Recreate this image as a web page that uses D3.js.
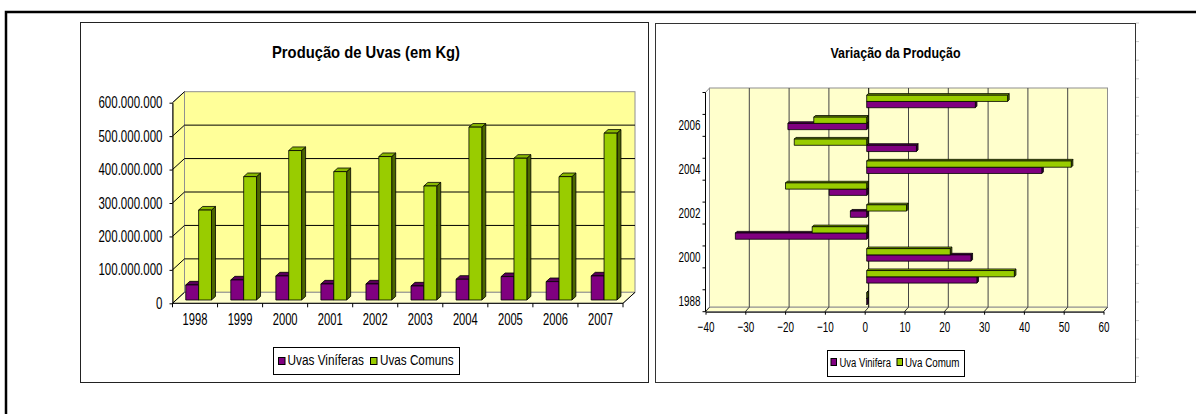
<!DOCTYPE html>
<html>
<head>
<meta charset="utf-8">
<script src="https://cdn.jsdelivr.net/npm/d3@7"></script>
<style>
  html, body { margin: 0; padding: 0; background: #fff; }
  svg { display: block; font-family: "Liberation Sans", Arial, sans-serif; }
</style>
</head>
<body>
<svg id="chart" width="1196" height="414"></svg>
<script>
// ---- Data -------------------------------------------------------------
const years = ["1998", "1999", "2000", "2001", "2002", "2003", "2004", "2005", "2006", "2007"];
const uvasViniferas = [45e6, 60e6, 72e6, 48e6, 48e6, 42e6, 62e6, 70e6, 55e6, 72e6];
const uvasComuns = [269e6, 369e6, 447e6, 384e6, 429e6, 341e6, 517e6, 424e6, 369e6, 499e6];
const prodTicks = [0, 1e8, 2e8, 3e8, 4e8, 5e8, 6e8];

// percentage change of production, year on year
const varYearLabels = ["1988", "", "2000", "", "2002", "", "2004", "", "2006", ""];
const varVinifera = [0, 27.7, 26.2, -33, -4.1, -9.4, 44, 12.5, -19.8, 27.3];
const varComum = [0, 37.1, 21, -13.7, 10, -20.4, 51.4, -18.2, -13.3, 35.4];
const varTicks = [-40, -30, -20, -10, 0, 10, 20, 30, 40, 50, 60];

const seriesProd = [
  { key: "vin", name: "Uvas Viníferas", values: uvasViniferas },
  { key: "com", name: "Uvas Comuns", values: uvasComuns }
];
const seriesVar = [
  { key: "vin", name: "Uva Vinifera", values: varVinifera },
  { key: "com", name: "Uva Comum", values: varComum }
];

const colors = {
  vin: { front: "#800080", top: "#5a005a", side: "#3d003d" },
  com: { front: "#99CC00", top: "#88B800", side: "#4C6600" }
};

// ---- Helpers -----------------------------------------------------------
const svg = d3.select("#chart");
const poly = pts => "M" + pts.map(p => p[0] + "," + p[1]).join("L") + "Z";
const fmtBR = d3.formatLocale({ decimal: ",", thousands: ".", grouping: [3], currency: ["R$ ", ""] }).format(",.0f");

// narrow the glyphs horizontally while keeping the anchor point fixed
function squeeze(sel, sx) {
  sel.each(function () {
    const t = d3.select(this);
    const x = +t.attr("x") || 0;
    t.attr("transform", `translate(${x * (1 - sx)},0) scale(${sx},1)`);
  });
}

// ---- Page frame ------------------------------------------------------------
svg.append("path")
  .attr("d", "M6,414V12H1196")
  .attr("fill", "none").attr("stroke", "#000").attr("stroke-width", 2.5);

// faint cell ticks along the right panel edge
const edgeTicks = d3.range(23, 382, 18.6);
svg.append("g").selectAll("line").data(edgeTicks).join("line")
  .attr("x1", 1136).attr("x2", 1139).attr("y1", d => d).attr("y2", d => d)
  .attr("stroke", "#c8c8c8");

svg.append("rect").attr("x", 80.5).attr("y", 22.5).attr("width", 568).attr("height", 360)
  .attr("fill", "#fff").attr("stroke", "#222");
svg.append("rect").attr("x", 655.5).attr("y", 23.5).attr("width", 480).attr("height", 359)
  .attr("fill", "#fff").attr("stroke", "#333");

// ================= Produção de Uvas (3D column chart) =================
{
  const L = { x0: 172.5, x1: 623, y0: 303.3, y1: 102.7, dx: 12, dy: -11 };
  const g = svg.append("g");

  g.append("text").attr("x", 366).attr("y", 58).attr("text-anchor", "middle")
    .attr("font-size", 17).attr("font-weight", "bold")
    .attr("textLength", 188).attr("lengthAdjust", "spacingAndGlyphs")
    .text("Produção de Uvas (em Kg)");

  const x = d3.scaleBand().domain(years).range([L.x0, L.x1]);
  const y = d3.scaleLinear().domain([0, 6e8]).range([L.y0, L.y1]);
  const sub = d3.scaleBand().domain(seriesProd.map(s => s.key)).range([0, x.bandwidth()]).paddingOuter(0.75);

  // walls and floor
  g.append("path").attr("d", poly([[L.x0, L.y0], [L.x0, L.y1], [L.x0 + L.dx, L.y1 + L.dy], [L.x0 + L.dx, L.y0 + L.dy]]))
    .attr("fill", "#FFFF99").attr("stroke", "#909090");
  g.append("rect").attr("x", L.x0 + L.dx).attr("y", L.y1 + L.dy)
    .attr("width", L.x1 - L.x0).attr("height", L.y0 - L.y1)
    .attr("fill", "#FFFF99").attr("stroke", "#909090");
  g.append("path").attr("d", poly([[L.x0, L.y0], [L.x1, L.y0], [L.x1 + L.dx, L.y0 + L.dy], [L.x0 + L.dx, L.y0 + L.dy]]))
    .attr("fill", "#FFFFCC").attr("stroke", "#909090");

  // gridlines on back and side walls
  const inner = prodTicks.filter(v => v > 0 && v < 6e8);
  g.append("g").selectAll("line").data(inner).join("line")
    .attr("x1", L.x0 + L.dx).attr("x2", L.x1 + L.dx)
    .attr("y1", d => y(d) + L.dy).attr("y2", d => y(d) + L.dy)
    .attr("stroke", "#000");
  g.append("g").selectAll("line").data(inner.concat([0, 6e8])).join("line")
    .attr("x1", L.x0).attr("x2", L.x0 + L.dx)
    .attr("y1", d => y(d)).attr("y2", d => y(d) + L.dy)
    .attr("stroke", "#000");

  // floor front edge, right edge and category boundary ticks
  g.append("line").attr("x1", L.x0).attr("x2", L.x1).attr("y1", L.y0).attr("y2", L.y0).attr("stroke", "#000");
  g.append("line").attr("x1", L.x1).attr("x2", L.x1 + L.dx).attr("y1", L.y0).attr("y2", L.y0 + L.dy).attr("stroke", "#000");
  const bounds = years.map(d => x(d)).concat([L.x1]);
  g.append("g").selectAll("line").data(bounds).join("line")
    .attr("x1", d => d).attr("x2", d => d).attr("y1", L.y0).attr("y2", L.y0 + 4)
    .attr("stroke", "#000");

  // value axis
  const ya = g.append("g").attr("transform", `translate(${L.x0},0)`)
    .call(d3.axisLeft(y).tickValues(prodTicks).tickSize(3).tickSizeOuter(0).tickPadding(7).tickFormat(fmtBR));
  ya.select(".domain").attr("stroke", "#000");
  ya.selectAll(".tick line").attr("stroke", "#000");
  ya.selectAll("text").attr("font-size", 16).attr("fill", "#000")
    .attr("font-family", "'Liberation Sans', Arial, sans-serif").call(squeeze, 0.72);

  // category labels
  const xa = g.append("g").attr("transform", `translate(0,${L.y0})`)
    .call(d3.axisBottom(x).tickSize(0).tickPadding(0));
  xa.select(".domain").remove();
  xa.selectAll("text").attr("font-size", 16).attr("fill", "#000").attr("y", 22).attr("dy", 0)
    .attr("font-family", "'Liberation Sans', Arial, sans-serif").call(squeeze, 0.70);

  // 3D columns, drawn left to right
  const t = { dx: 3.6, dy: -3.3 };   // front face offset inside the floor
  const d = { dx: 4, dy: -3.6 };     // column depth
  const bars = g.append("g").attr("stroke", "#000").attr("stroke-width", 0.8).attr("stroke-linejoin", "round");
  years.forEach((yr, i) => {
    seriesProd.forEach(s => {
      const c = colors[s.key];
      const x0 = x(yr) + sub(s.key) + t.dx, x1 = x0 + sub.bandwidth();
      const yb = y(0) + t.dy, yt = y(s.values[i]) + t.dy;
      bars.append("path").attr("d", poly([[x1, yt], [x1 + d.dx, yt + d.dy], [x1 + d.dx, yb + d.dy], [x1, yb]])).attr("fill", c.side);
      bars.append("path").attr("d", poly([[x0, yt], [x1, yt], [x1 + d.dx, yt + d.dy], [x0 + d.dx, yt + d.dy]])).attr("fill", c.top);
      bars.append("rect").attr("x", x0).attr("y", yt).attr("width", x1 - x0).attr("height", yb - yt).attr("fill", c.front);
    });
  });

  // legend
  const lg = g.append("g");
  lg.append("rect").attr("x", 273.5).attr("y", 347.5).attr("width", 186).attr("height", 27)
    .attr("fill", "#fff").attr("stroke", "#000");
  const items = [
    { s: seriesProd[0], sq: 278, tx: 287.5, w: 76.5 },
    { s: seriesProd[1], sq: 370, tx: 380, w: 73.5 }
  ];
  items.forEach(it => {
    lg.append("rect").attr("x", it.sq + 0.5).attr("y", 357.5).attr("width", 6.5).attr("height", 7)
      .attr("fill", colors[it.s.key].front).attr("stroke", "#000");
    lg.append("text").attr("x", it.tx).attr("y", 365.3).attr("font-size", 14)
      .attr("textLength", it.w).attr("lengthAdjust", "spacingAndGlyphs").text(it.s.name);
  });
}

// ================= Variação da Produção (3D bar chart) =================
{
  const R = { x0: 705.5, x1: 1103.5, y0: 311.7, y1: 92.5, dx: 4, dy: -4.5 };
  const g = svg.append("g");

  g.append("text").attr("x", 895.5).attr("y", 57.5).attr("text-anchor", "middle")
    .attr("font-size", 15.5).attr("font-weight", "bold")
    .attr("textLength", 130).attr("lengthAdjust", "spacingAndGlyphs")
    .text("Variação da Produção");

  const x = d3.scaleLinear().domain([-40, 60]).range([R.x0, R.x1]);
  const y = d3.scaleBand().domain(years.slice().reverse()).range([R.y1, R.y0]);
  const sub = d3.scaleBand().domain(["com", "vin"]).range([0, y.bandwidth()]).paddingOuter(0.75);

  // back wall and base
  g.append("rect").attr("x", R.x0 + R.dx).attr("y", R.y1 + R.dy)
    .attr("width", R.x1 - R.x0).attr("height", R.y0 - R.y1)
    .attr("fill", "#FFFFCC").attr("stroke", "#909090");
  g.append("path").attr("d", poly([[R.x0, R.y0], [R.x1, R.y0], [R.x1 + R.dx, R.y0 + R.dy], [R.x0 + R.dx, R.y0 + R.dy]]))
    .attr("fill", "#FFFFCC").attr("stroke", "#909090");
  g.append("line").attr("x1", R.x0).attr("x2", R.x0 + R.dx).attr("y1", R.y1).attr("y2", R.y1 + R.dy)
    .attr("stroke", "#909090");

  // gridlines
  const inner = varTicks.filter(v => v > -40 && v < 60);
  g.append("g").selectAll("line").data(inner).join("line")
    .attr("x1", d => x(d) + R.dx).attr("x2", d => x(d) + R.dx)
    .attr("y1", R.y1 + R.dy).attr("y2", R.y0 + R.dy)
    .attr("stroke", d => d === 0 ? "#000" : "#444");
  g.append("g").selectAll("line").data(varTicks).join("line")
    .attr("x1", d => x(d)).attr("x2", d => x(d) + R.dx)
    .attr("y1", R.y0).attr("y2", R.y0 + R.dy)
    .attr("stroke", "#333");

  // value axis
  const xa = g.append("g").attr("transform", `translate(0,${R.y0})`)
    .call(d3.axisBottom(x).tickValues(varTicks).tickSize(3).tickSizeOuter(0));
  xa.select(".domain").attr("stroke", "#000");
  xa.selectAll(".tick line").attr("stroke", "#000");
  xa.selectAll("text").attr("font-size", 15).attr("fill", "#000").attr("y", 20.5).attr("dy", 0)
    .attr("font-family", "'Liberation Sans', Arial, sans-serif").call(squeeze, 0.66);

  // category axis
  g.append("line").attr("x1", R.x0).attr("x2", R.x0).attr("y1", R.y1).attr("y2", R.y0).attr("stroke", "#000");
  const bounds = years.map(d => y(d)).concat([R.y0]);
  g.append("g").selectAll("line").data(bounds).join("line")
    .attr("x1", R.x0 - 3).attr("x2", R.x0).attr("y1", d => d).attr("y2", d => d)
    .attr("stroke", "#000");
  const ya = g.append("g").attr("transform", `translate(${R.x0},0)`)
    .call(d3.axisLeft(y).tickSize(0).tickPadding(5).tickFormat(d => varYearLabels[years.indexOf(d)]));
  ya.select(".domain").remove();
  ya.selectAll("text").attr("font-size", 15).attr("fill", "#000")
    .attr("font-family", "'Liberation Sans', Arial, sans-serif").call(squeeze, 0.66);

  // 3D bars, drawn bottom to top
  const t = { dx: 2, dy: -2 };
  const d = { dx: 1.6, dy: -1.6 };
  const bars = g.append("g").attr("stroke", "#000").attr("stroke-width", 0.8).attr("stroke-linejoin", "round");
  years.forEach((yr, i) => {
    ["vin", "com"].forEach(key => {
      const s = seriesVar.find(q => q.key === key);
      const c = colors[key];
      const v = s.values[i];
      const xl = Math.min(x(0), x(v)) + t.dx, xr = Math.max(x(0), x(v)) + t.dx;
      const yt = y(yr) + sub(key) + t.dy, yb = yt + sub.bandwidth();
      bars.append("path").attr("d", poly([[xr, yt], [xr + d.dx, yt + d.dy], [xr + d.dx, yb + d.dy], [xr, yb]])).attr("fill", c.side);
      bars.append("path").attr("d", poly([[xl, yt], [xr, yt], [xr + d.dx, yt + d.dy], [xl + d.dx, yt + d.dy]])).attr("fill", c.top);
      bars.append("rect").attr("x", xl).attr("y", yt).attr("width", xr - xl).attr("height", yb - yt).attr("fill", c.front);
    });
  });

  // legend
  const lg = g.append("g");
  lg.append("rect").attr("x", 827.5).attr("y", 350.5).attr("width", 137).attr("height", 26)
    .attr("fill", "#fff").attr("stroke", "#000");
  const items = [
    { s: seriesVar[0], sq: 830.5, tx: 839.5, w: 51.5 },
    { s: seriesVar[1], sq: 896.5, tx: 905, w: 54.5 }
  ];
  items.forEach(it => {
    lg.append("rect").attr("x", it.sq + 0.5).attr("y", 358.5).attr("width", 5.5).attr("height", 7)
      .attr("fill", colors[it.s.key].front).attr("stroke", "#000");
    lg.append("text").attr("x", it.tx).attr("y", 367).attr("font-size", 12)
      .attr("textLength", it.w).attr("lengthAdjust", "spacingAndGlyphs").text(it.s.name);
  });
}
</script>
</body>
</html>
